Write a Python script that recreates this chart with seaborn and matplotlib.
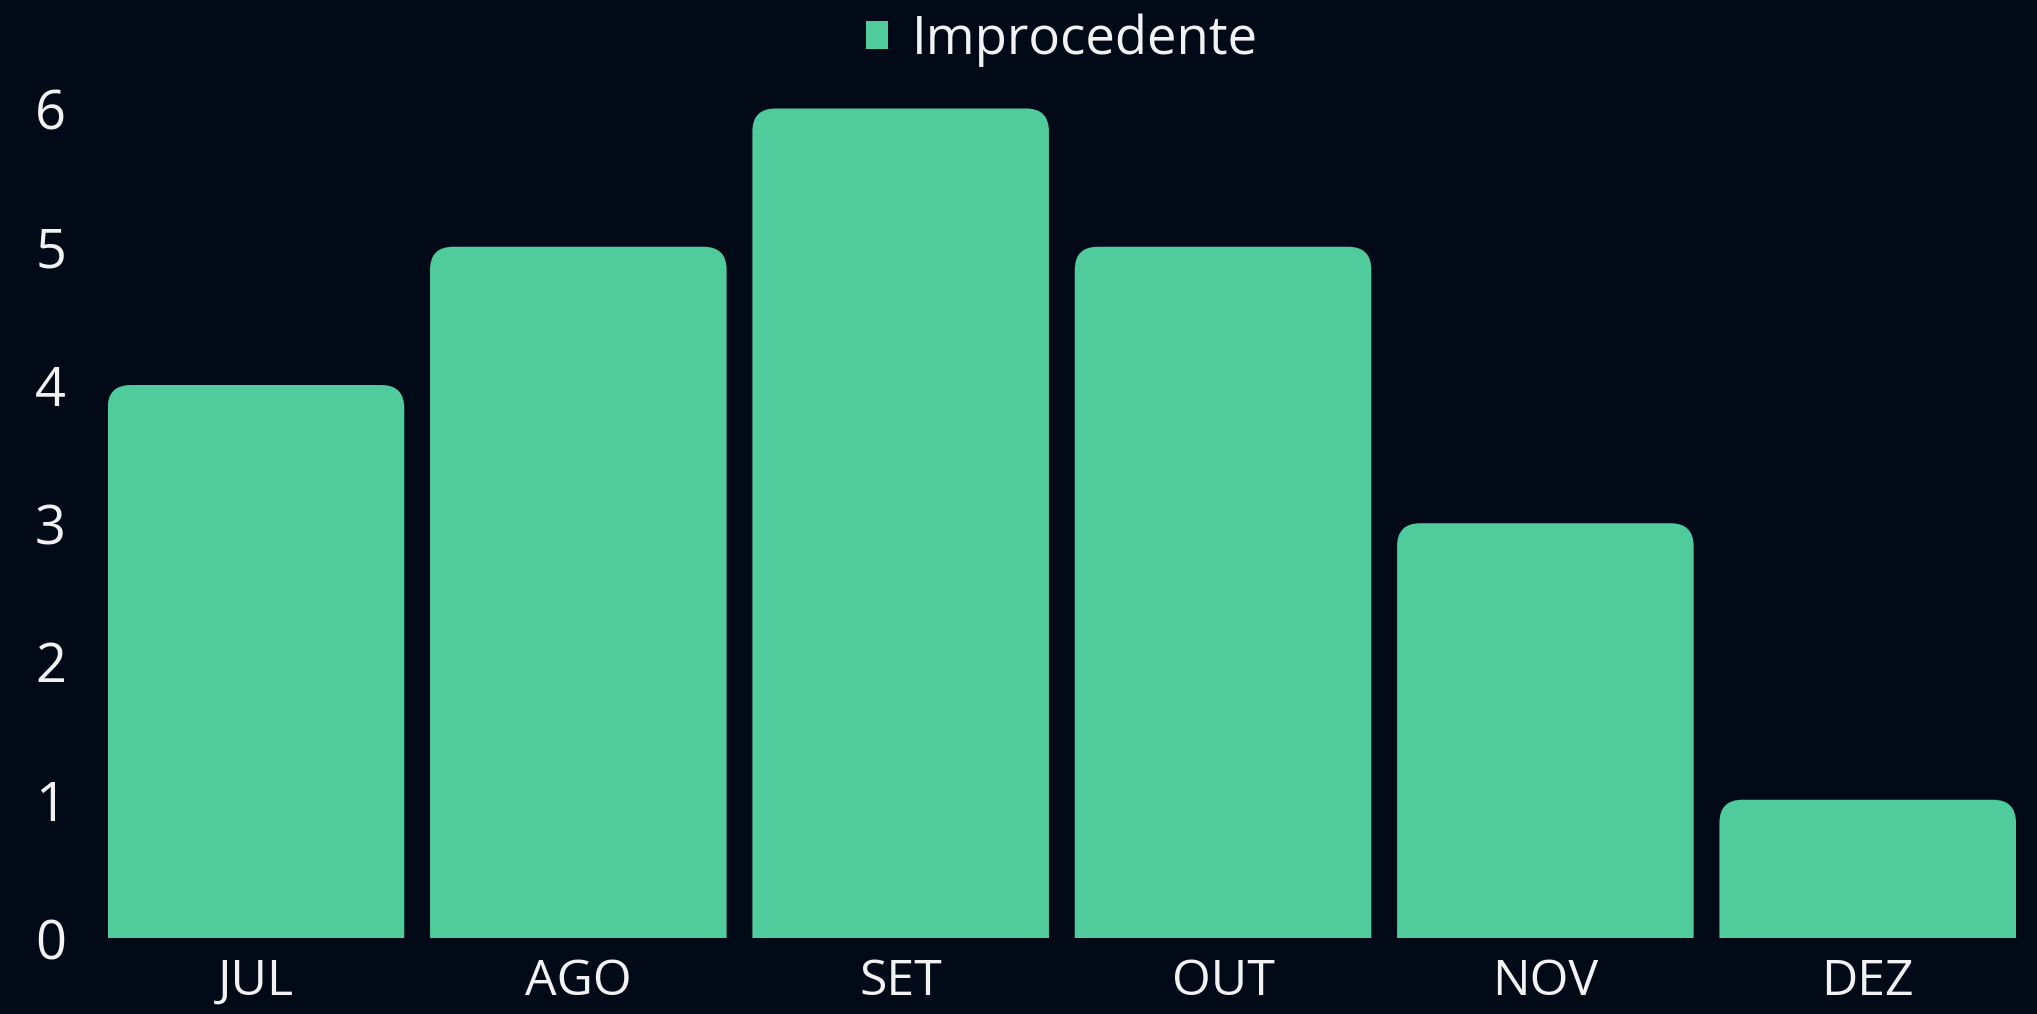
import matplotlib
matplotlib.use("Agg")
import matplotlib.pyplot as plt
import seaborn as sns
import pandas as pd
from matplotlib.patches import FancyBboxPatch, Patch
from matplotlib.transforms import IdentityTransform

months = ["JUL", "AGO", "SET", "OUT", "NOV", "DEZ"]
values = [4, 5, 6, 5, 3, 1]
series_name = "Improcedente"
y_ticks = [0, 1, 2, 3, 4, 5, 6]

BG = "#020a18"
BAR = "#50cc9c"
TXT = "#f2f2f2"

sns.set_theme(style="dark")
plt.rcParams["font.family"] = ["Open Sans", "DejaVu Sans"]

W, H = 2037, 1014
fig = plt.figure(figsize=(W / 100, H / 100), dpi=100, facecolor=BG)
ax_left, ax_right = 107.7, 2016.0
ax_bottom = 76.0
unit = 138.25
ymax = 6.1
ax = fig.add_axes([ax_left / W, ax_bottom / H, (ax_right - ax_left) / W, unit * ymax / H])
ax.set_facecolor(BG)

df = pd.DataFrame({"mes": months, "valor": values})
bw = 0.92
sns.barplot(data=df, x="mes", y="valor", color=BAR, width=bw, saturation=1, ax=ax)
ax.set_xlim(-bw / 2, len(months) - 1 + bw / 2)
ax.set_ylim(0, ymax)

# replace bars with top-rounded versions drawn in pixel space
radius_px = 23
for bar in list(ax.patches):
    x, w, h = bar.get_x(), bar.get_width(), bar.get_height()
    bar.set_visible(False)
    (x0, y0), (x1, y1) = ax.transData.transform([(x, 0), (x + w, h)])
    fb = FancyBboxPatch((x0, y0 - 2 * radius_px), x1 - x0, (y1 - y0) + 2 * radius_px,
                        boxstyle=f"round,pad=0,rounding_size={radius_px}",
                        transform=IdentityTransform(), facecolor=BAR,
                        edgecolor="none", linewidth=0)
    ax.add_patch(fb)
    fb.set_clip_path(ax.patch)

for s in ax.spines.values():
    s.set_visible(False)
ax.grid(False)
ax.set_xlabel("")
ax.set_ylabel("")
ax.set_yticks(y_ticks)
ax.set_yticklabels([str(t) for t in y_ticks])
ax.tick_params(axis="y", length=0, pad=30, labelsize=39, labelcolor=TXT)
ax.tick_params(axis="x", length=0, pad=14, labelsize=36, labelcolor=TXT)

fs = 38
leg = ax.legend(handles=[Patch(facecolor=BAR, edgecolor="none", label=series_name)],
                loc="center", bbox_to_anchor=(0.5, 1.065), frameon=False,
                fontsize=fs, handlelength=0.42, handleheight=0.45, handletextpad=0.45,
                labelcolor=TXT)

fig.savefig("out.png", dpi=100, facecolor=BG)
